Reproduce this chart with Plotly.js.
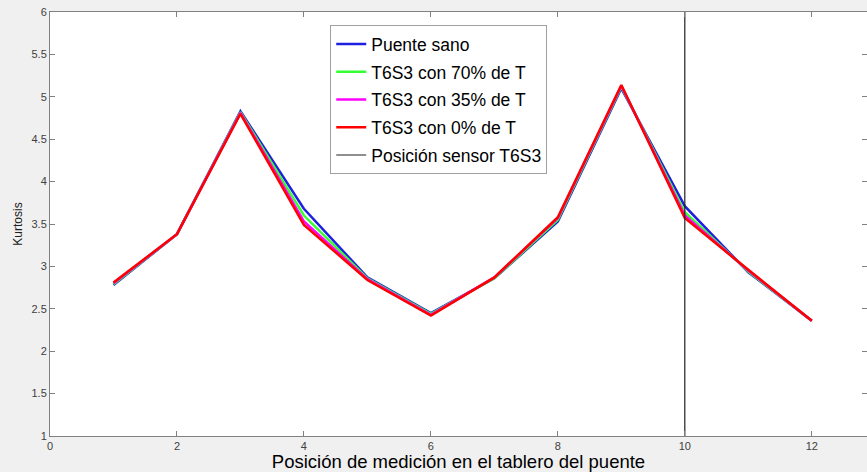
<!DOCTYPE html>
<html><head><meta charset="utf-8">
<script src="https://cdn.plot.ly/plotly-3.0.1.min.js"></script>
<style>html,body{margin:0;padding:0;background:#f0f0f0;}#chart{width:867px;height:472px;}</style>
</head><body><div id="chart"></div>
<script>
const positions = [1,2,3,4,5,6,7,8,9,10,11,12];
const sano  = [2.78,3.38,4.83,3.68,2.87,2.45,2.86,3.53,5.10,3.71,2.93,2.36];
const t70   = [2.79,3.38,4.82,3.60,2.86,2.44,2.86,3.55,5.12,3.64,2.94,2.36];
const t35   = [2.80,3.38,4.81,3.53,2.85,2.43,2.87,3.57,5.13,3.60,2.95,2.36];
const t0    = [2.81,3.38,4.80,3.49,2.84,2.42,2.87,3.58,5.14,3.57,2.96,2.36];
const sensorX = [10,10];
const sensorY = [1,6];
const names = ['Puente sano','T6S3 con 70% de T','T6S3 con 35% de T','T6S3 con 0% de T','Posición sensor T6S3'];
const xTicks = [0,2,4,6,8,10,12];
const yTicks = [1,1.5,2,2.5,3,3.5,4,4.5,5,5.5,6];

const mk = (y,c,n,g) => ({x:positions,y:y,mode:'lines',name:n,legendgroup:g,line:{color:c,width:2.5}});
const data = [
  mk(sano,'#1f1fe0',names[0],'a'),
  mk(t70,'#33ff33',names[1],'b'),
  mk(t35,'#ff00ff',names[2],'c'),
  mk(t0,'#ff0000',names[3],'d'),
  {x:sensorX,y:sensorY,mode:'lines',name:names[4],legendgroup:'e',line:{color:'#202020',width:1.2}}
];
const narrow = '"Liberation Sans Narrow", "Liberation Sans", Arial, sans-serif';
const axFont = {family:narrow, size:11, color:'#404040'};
const layout = {
  width:867,height:472,
  margin:{l:50,r:0,t:12,b:36},
  paper_bgcolor:'#f0f0f0',plot_bgcolor:'#ffffff',
  showlegend:true,
  legend:{x:0.343,y:0.969,xanchor:'left',yanchor:'top',bgcolor:'#ffffff',bordercolor:'#a0a0a0',borderwidth:1,
    font:{family:'"Liberation Sans", Arial, sans-serif',size:17.5,color:'#000'},traceorder:'grouped',tracegroupgap:2},
  xaxis:{range:[0,12.87],tickvals:xTicks,ticktext:xTicks.map(String),ticks:'inside',ticklen:5,tickcolor:'#808080',
    showline:true,linecolor:'#808080',linewidth:1,mirror:'ticks',showgrid:false,zeroline:false,tickfont:axFont,
    title:{text:'Posición de medición en el tablero del puente',standoff:2,font:{family:narrow,size:18.5,color:'#000'}}},
  yaxis:{range:[1,6],tickvals:yTicks,ticktext:yTicks.map(String),ticks:'inside',ticklen:5,tickcolor:'#808080',
    showline:true,linecolor:'#808080',linewidth:1,mirror:'ticks',showgrid:false,zeroline:false,tickfont:axFont,
    title:{text:'Kurtosis',standoff:6,font:{family:narrow,size:12,color:'#202020'}}}
};
Plotly.newPlot('chart',data,layout,{displayModeBar:false,staticPlot:true});
</script></body></html>
